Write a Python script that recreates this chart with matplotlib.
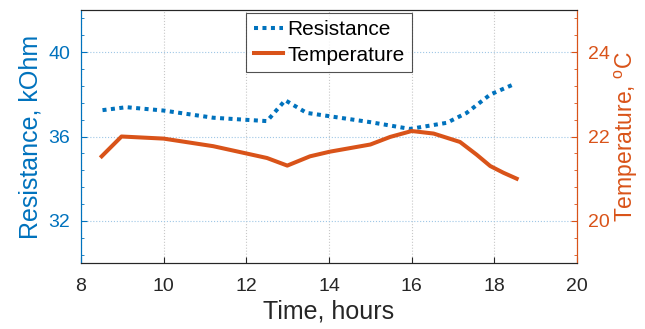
import matplotlib
matplotlib.use("Agg")
import matplotlib.pyplot as plt
from matplotlib.ticker import MultipleLocator

plt.rcParams['font.family'] = ['Liberation Sans', 'DejaVu Sans']
plt.rcParams['mathtext.fontset'] = 'custom'
plt.rcParams['mathtext.rm'] = 'Liberation Sans'

# data
resTime = [8.52, 9.1, 10.0, 11.2, 12.5, 12.94, 13.46, 14.02, 15.0, 15.96, 16.85, 17.33, 17.9, 18.45]
resistance = [37.25, 37.39, 37.23, 36.89, 36.73, 37.72, 37.12, 36.96, 36.68, 36.36, 36.65, 37.12, 37.99, 38.46]
tempTime = [8.5, 8.98, 10.0, 11.2, 12.5, 12.99, 13.54, 14.02, 15.0, 15.48, 16.0, 16.53, 17.17, 17.57, 17.9, 18.22, 18.54]
temperature = [21.53, 22.0, 21.95, 21.77, 21.49, 21.31, 21.53, 21.64, 21.81, 21.99, 22.13, 22.07, 21.87, 21.57, 21.3, 21.14, 21.0]

BLUE = '#0072BD'
ORANGE = '#D95319'
DARK = '#262626'

fig = plt.figure(figsize=(6.45, 3.29), dpi=100)
ax = fig.add_axes([0.1256, 0.2006, 0.769, 0.769])
ax2 = ax.twinx()

l1, = ax.plot(resTime, resistance, color=BLUE, lw=2.9, linestyle=(0, (1, 1.1)),
              dash_capstyle='butt', label='Resistance')
l2, = ax2.plot(tempTime, temperature, color=ORANGE, lw=2.9, label='Temperature',
               solid_joinstyle='round')

ax.set_xlim(8, 20)
ax.set_ylim(30, 42)
ax2.set_ylim(19, 25)
ax.set_xticks(range(8, 21, 2))
ax.set_yticks([32, 36, 40])
ax2.set_yticks([20, 22, 24])
ax.yaxis.set_minor_locator(MultipleLocator(0.8))
ax2.yaxis.set_minor_locator(MultipleLocator(0.4))

# grid
ax.xaxis.grid(True, linestyle=':', color='#c8c8c8', lw=0.8)
ax.yaxis.grid(True, linestyle=':', color='#9fc7e6', lw=0.8)
ax.set_axisbelow(True)

ax.tick_params(axis='x', direction='in', colors=DARK, labelsize=14, length=4, pad=11)
ax.tick_params(axis='y', which='both', direction='in', colors=BLUE, labelsize=14, pad=8)
ax.tick_params(axis='y', which='major', length=4)
ax.tick_params(axis='y', which='minor', length=2)
ax2.tick_params(axis='y', which='both', direction='in', colors=ORANGE, labelsize=14, pad=8)
ax2.tick_params(axis='y', which='major', length=4)
ax2.tick_params(axis='y', which='minor', length=2)

for a in (ax, ax2):
    a.spines['left'].set_color(BLUE)
    a.spines['right'].set_color(ORANGE)
    a.spines['top'].set_color(DARK)
    a.spines['bottom'].set_color(DARK)
    for s in a.spines.values():
        s.set_linewidth(0.8)

ax.set_xlabel('Time, hours', fontsize=18, color=DARK, labelpad=3)
ax.set_ylabel('Resistance, kOhm', fontsize=18, color=BLUE, labelpad=4)
ax2.set_ylabel(r'Temperature, $^{\mathrm{o}}$C', fontsize=16.5, color=ORANGE, labelpad=2)

leg = ax2.legend(handles=[l1, l2], loc='upper center', fontsize=15, frameon=True,
                 fancybox=False, edgecolor=DARK, borderpad=0.35, handlelength=1.4,
                 handletextpad=0.2, labelspacing=0.3, borderaxespad=0.15)
leg.get_frame().set_linewidth(0.8)

fig.savefig('out.png', dpi=100)
